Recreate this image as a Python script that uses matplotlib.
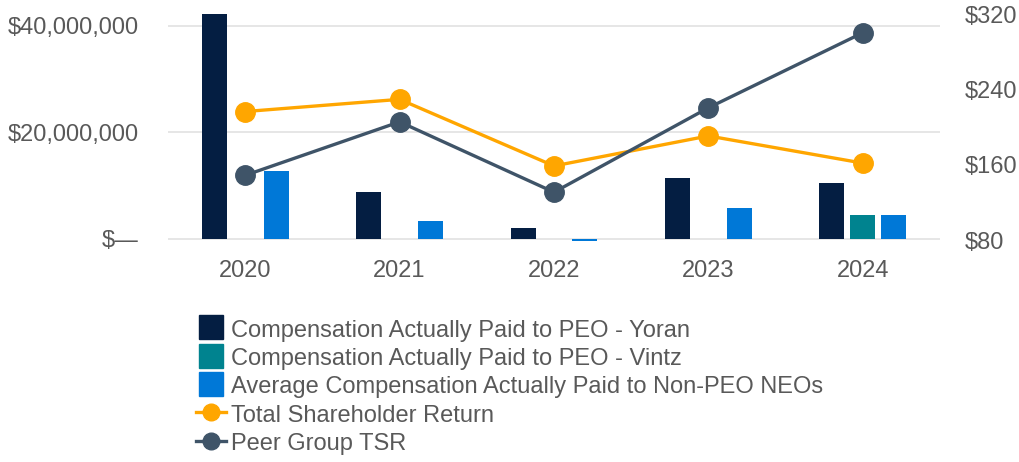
import numpy as np
import matplotlib.pyplot as plt
from matplotlib.ticker import FuncFormatter
from matplotlib.lines import Line2D

plt.rcParams['font.family'] = ['Liberation Sans', 'DejaVu Sans']

years = ['2020', '2021', '2022', '2023', '2024']
cap_yoran = [42.5e6, 8.7e6, 2.1e6, 11.4e6, 10.4e6]
cap_vintz = [np.nan, np.nan, np.nan, np.nan, 4.4e6]
cap_neo = [12.7e6, 3.4e6, -0.4e6, 5.8e6, 4.4e6]
tsr = [217, 230, 159, 191, 162]
peer_tsr = [149, 206, 131, 221, 301]

c_yoran = '#041e42'
c_vintz = '#00838f'
c_neo = '#0078d7'
c_tsr = '#ffa600'
c_peer = '#3f5468'
c_text = '#595959'
fs = 17

fig = plt.figure(figsize=(10.2, 4.62), dpi=100)
ax = fig.add_axes([168/1020, 1-242/462, (940-168)/1020, 228/462])
x = np.arange(len(years))
w = 0.162

ax.bar(x - 0.2, cap_yoran, w, color=c_yoran, zorder=2)
ax.bar(x, cap_vintz, w, color=c_vintz, zorder=2)
ax.bar(x + 0.2, cap_neo, w, color=c_neo, zorder=2)

ax.set_xlim(-0.5, 4.5)
ax.set_ylim(-0.6e6, 42.2e6)
ax.set_yticks([0, 20e6, 40e6])
ax.yaxis.set_major_formatter(FuncFormatter(lambda v, p: '$—' if v == 0 else '${:,.0f}'.format(v)))
ax.grid(axis='y', color='#e2e2e2', linewidth=1.2, zorder=0)
ax.set_xticks(x)
ax.set_xticklabels(years)
for s in ax.spines.values():
    s.set_visible(False)
ax.tick_params(axis='y', length=0, pad=21, labelsize=fs, labelcolor=c_text)
ax.tick_params(axis='x', length=0, pad=13, labelsize=fs, labelcolor=c_text)

ax2 = ax.twinx()
ax2.plot(x, tsr, color=c_tsr, lw=2.4, marker='o', ms=14, zorder=3)
ax2.plot(x, peer_tsr, color=c_peer, lw=2.4, marker='o', ms=14, zorder=3)
ax2.set_ylim(77.9, 321)
ax2.set_yticks([80, 160, 240, 320])
ax2.yaxis.set_major_formatter(FuncFormatter(lambda v, p: '${:.0f}'.format(v)))
for s in ax2.spines.values():
    s.set_visible(False)
ax2.tick_params(axis='y', length=0, pad=18, labelsize=fs, labelcolor=c_text)

handles = [
    Line2D([], [], ls='', marker='s', ms=17, color=c_yoran),
    Line2D([], [], ls='', marker='s', ms=17, color=c_vintz),
    Line2D([], [], ls='', marker='s', ms=17, color=c_neo),
    Line2D([], [], color=c_tsr, lw=2.4, marker='o', ms=12),
    Line2D([], [], color=c_peer, lw=2.4, marker='o', ms=12),
]
labels = [
    'Compensation Actually Paid to PEO - Yoran',
    'Compensation Actually Paid to PEO - Vintz',
    'Average Compensation Actually Paid to Non-PEO NEOs',
    'Total Shareholder Return',
    'Peer Group TSR',
]
leg = fig.legend(handles, labels, loc='upper left', bbox_to_anchor=(196/1020, 1-318/462),
                 frameon=False, fontsize=fs, handlelength=1.27, handleheight=1.0,
                 handletextpad=0.2, labelspacing=0.2, borderpad=0, borderaxespad=0)
for t in leg.get_texts():
    t.set_color(c_text)

fig.savefig('out.png', dpi=100)
